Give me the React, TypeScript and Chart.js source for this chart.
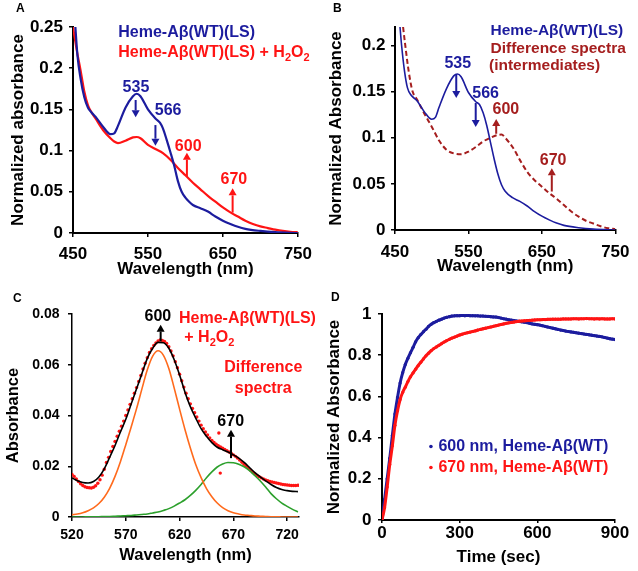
import React, { useEffect, useRef } from 'react';
import { Chart, registerables } from 'chart.js';

Chart.register(...registerables);

const FONT = "'Liberation Sans', Arial, Helvetica, sans-serif";
const BLUE = '#1c1c9e';
const RED = '#ff1414';
const DARKRED = '#a51e1e';
const ORANGE = '#ff6a1c';
const GREEN = '#2ca02c';
const BLACK = '#000000';

// ---------- Panel A ----------
const aWlLS = [453, 456, 460, 465, 470, 475, 480, 490, 500, 505, 510, 520, 530, 535, 540, 550, 560, 566, 570, 575, 580, 585, 590, 595, 600, 605, 610, 620, 630, 640, 650, 660, 670, 680, 700, 720, 750];
const aLS = [0.252, 0.215, 0.188, 0.165, 0.152, 0.146, 0.141, 0.129, 0.12, 0.121, 0.13, 0.152, 0.166, 0.169, 0.166, 0.15, 0.139, 0.134, 0.127, 0.113, 0.098, 0.082, 0.063, 0.05, 0.043, 0.038, 0.034, 0.03, 0.026, 0.02, 0.015, 0.011, 0.0075, 0.005, 0.0025, 0.001, 0];
const aWlH2O2 = [450, 455, 460, 465, 470, 475, 480, 490, 500, 505, 510, 520, 530, 535, 540, 550, 560, 570, 580, 590, 600, 610, 620, 630, 640, 650, 660, 670, 680, 690, 700, 710, 720, 730, 740, 750];
const aH2O2 = [0.25, 0.222, 0.198, 0.172, 0.155, 0.146, 0.139, 0.125, 0.115, 0.111, 0.109, 0.112, 0.116, 0.1165, 0.115, 0.107, 0.102, 0.097, 0.089, 0.079, 0.07, 0.061, 0.053, 0.045, 0.038, 0.031, 0.025, 0.02, 0.015, 0.011, 0.008, 0.006, 0.004, 0.0025, 0.0015, 0.001];
const aXTicks = [450, 550, 650, 750];
const aYTicks = [0, 0.05, 0.1, 0.15, 0.2, 0.25];

// ---------- Panel B ----------
const bWlLS = [456, 459, 463, 467, 472, 476, 480, 490, 500, 505, 510, 520, 530, 535, 540, 550, 560, 565, 570, 575, 580, 585, 590, 595, 600, 610, 620, 630, 640, 650, 660, 670, 680, 700, 720, 750];
const bLS = [0.228, 0.2, 0.172, 0.154, 0.146, 0.143, 0.14, 0.128, 0.12, 0.122, 0.133, 0.153, 0.167, 0.169, 0.166, 0.149, 0.139, 0.136, 0.127, 0.113, 0.095, 0.077, 0.061, 0.049, 0.042, 0.035, 0.031, 0.026, 0.02, 0.015, 0.011, 0.0075, 0.005, 0.0025, 0.001, 0.0];
const bWlDiff = [461, 464, 469, 474, 480, 490, 500, 510, 520, 530, 540, 550, 560, 570, 580, 590, 595, 600, 610, 620, 630, 640, 650, 660, 670, 680, 690, 700, 710, 720, 730, 740, 750];
const bDiff = [0.22, 0.2, 0.17, 0.15, 0.1415, 0.126, 0.112, 0.097, 0.087, 0.083, 0.082, 0.085, 0.09, 0.096, 0.1, 0.103, 0.1035, 0.1, 0.09, 0.076, 0.063, 0.054, 0.047, 0.04, 0.034, 0.027, 0.02, 0.0145, 0.01, 0.007, 0.004, 0.002, 0.001];
const bXTicks = [450, 550, 650, 750];
const bYTicks = [0, 0.05, 0.1, 0.15, 0.2];

// ---------- Panel C ----------
const cWl = [520, 525, 530, 535, 540, 545, 550, 555, 560, 565, 570, 575, 580, 585, 590, 595, 600, 605, 610, 615, 620, 625, 630, 635, 640, 645, 650, 655, 660, 665, 670, 675, 680, 685, 690, 695, 700, 705, 710, 715, 720, 725, 730];
const cFit = [0.0154, 0.0143, 0.0136, 0.0134, 0.014, 0.0158, 0.019, 0.0235, 0.0282, 0.0335, 0.0385, 0.0445, 0.0505, 0.0565, 0.0625, 0.0665, 0.0688, 0.0687, 0.0665, 0.062, 0.056, 0.0492, 0.0435, 0.039, 0.0348, 0.0318, 0.0293, 0.0275, 0.0265, 0.0256, 0.0245, 0.0232, 0.0215, 0.0195, 0.0175, 0.0158, 0.0142, 0.0128, 0.0116, 0.0108, 0.0104, 0.0101, 0.01];
const cBand600 = [0.0009, 0.0012, 0.0017, 0.0025, 0.0036, 0.0053, 0.0078, 0.0113, 0.016, 0.0218, 0.0285, 0.0355, 0.0427, 0.0505, 0.058, 0.0634, 0.0655, 0.0637, 0.0585, 0.0508, 0.0425, 0.0345, 0.0272, 0.0207, 0.0155, 0.0112, 0.008, 0.0055, 0.0037, 0.0025, 0.0017, 0.0012, 0.0008, 0.0006, 0.0004, 0.0003, 0.0002, 0.0001, 0.0001, 0, 0, 0, 0];
const cBand670 = [0, 0, 0, 0.0001, 0.0001, 0.0001, 0.0002, 0.0002, 0.0003, 0.0004, 0.0005, 0.0006, 0.0008, 0.001, 0.0012, 0.0016, 0.002, 0.0026, 0.0033, 0.0043, 0.0055, 0.0068, 0.0085, 0.0105, 0.0128, 0.0155, 0.0178, 0.0197, 0.0209, 0.0215, 0.0214, 0.0208, 0.0198, 0.0183, 0.0163, 0.0142, 0.0118, 0.0092, 0.0072, 0.0055, 0.0042, 0.003, 0.002];
const cDotWl = [
  520, 522, 524, 526, 528, 530, 532, 534, 536, 538,
  540, 542, 544, 546, 548, 550, 552, 554, 556, 558,
  560, 562, 564, 566, 568, 570, 572, 574, 576, 578,
  580, 582, 584, 586, 588, 590, 592, 594, 596, 598,
  600, 602, 604, 606, 608, 610, 612, 614, 616, 618,
  620, 622, 624, 626, 628, 630, 632, 634, 636, 638,
  640, 642, 644, 646, 648, 650, 652, 654, 656, 658,
  660, 662, 664, 666, 668, 670, 672, 674, 676, 678,
  680, 682, 684, 686, 688, 690, 692, 694, 696, 698,
  700, 702, 704, 706, 708, 710, 712, 714, 716, 718,
  720, 722, 724, 726, 728, 730, 656.5, 657.8,
];
const cDotAbs = [
  0.0168, 0.016, 0.015, 0.014, 0.0131, 0.0124, 0.0119, 0.0116, 0.0115, 0.0114,
  0.0117, 0.0123, 0.0133, 0.0147, 0.0165, 0.0188, 0.0215, 0.0235, 0.0258, 0.0278,
  0.0298, 0.0318, 0.0338, 0.0358, 0.0378, 0.04, 0.0422, 0.0444, 0.0466, 0.0488,
  0.051, 0.0534, 0.0558, 0.0583, 0.0606, 0.0628, 0.0648, 0.0663, 0.0676, 0.0686,
  0.0694, 0.0698, 0.0696, 0.0692, 0.0684, 0.0671, 0.0654, 0.0635, 0.0612, 0.0588,
  0.0563, 0.0537, 0.0512, 0.0488, 0.0466, 0.0446, 0.0428, 0.0411, 0.0394, 0.0378,
  0.0362, 0.0348, 0.0335, 0.0323, 0.0312, 0.0302, 0.0294, 0.0287, 0.0281, 0.0276,
  0.0271, 0.0266, 0.0261, 0.0256, 0.0251, 0.0245, 0.0239, 0.0232, 0.0224, 0.0216,
  0.0208, 0.02, 0.0192, 0.0184, 0.0177, 0.017, 0.0164, 0.0159, 0.0154, 0.015,
  0.0146, 0.0143, 0.014, 0.0138, 0.0136, 0.0134, 0.0132, 0.013, 0.0128, 0.0127,
  0.0126, 0.0125, 0.0124, 0.0124, 0.0124, 0.0125, 0.0331, 0.0173,
];
const cXTicks = [520, 570, 620, 670, 720];
const cYTicks = [0, 0.02, 0.04, 0.06, 0.08];

// ---------- Panel D ----------
const dTime = [
  0, 10, 20, 30, 40, 50, 60, 70, 80, 90,
  100, 110, 120, 130, 140, 150, 160, 170, 180, 190,
  200, 210, 220, 230, 240, 250, 260, 270, 280, 290,
  300, 310, 320, 330, 340, 350, 360, 370, 380, 390,
  400, 410, 420, 430, 440, 450, 460, 470, 480, 490,
  500, 510, 520, 530, 540, 550, 560, 570, 580, 590,
  600, 610, 620, 630, 640, 650, 660, 670, 680, 690,
  700, 710, 720, 730, 740, 750, 760, 770, 780, 790,
  800, 810, 820, 830, 840, 850, 860, 870, 880, 890,
  900,
];
const d600 = [
  0.0, 0.1, 0.2, 0.3, 0.41, 0.515, 0.595, 0.665, 0.715, 0.755,
  0.785, 0.812, 0.838, 0.865, 0.885, 0.9, 0.914, 0.926, 0.94, 0.95,
  0.958, 0.964, 0.97, 0.975, 0.98, 0.984, 0.987, 0.99, 0.991, 0.992,
  0.992, 0.993, 0.992, 0.993, 0.992, 0.992, 0.991, 0.991, 0.99, 0.99,
  0.989, 0.988, 0.987, 0.986, 0.985, 0.983, 0.98, 0.977, 0.975, 0.972,
  0.97, 0.968, 0.966, 0.964, 0.962, 0.96, 0.958, 0.955, 0.952, 0.95,
  0.948, 0.946, 0.943, 0.94, 0.937, 0.934, 0.931, 0.928, 0.925, 0.922,
  0.92, 0.917, 0.915, 0.913, 0.911, 0.909, 0.907, 0.905, 0.903, 0.901,
  0.899, 0.897, 0.895, 0.893, 0.891, 0.889, 0.886, 0.883, 0.88, 0.878,
  0.876,
];
const d670 = [
  0.0, 0.06, 0.16, 0.27, 0.36, 0.46, 0.53, 0.585, 0.62, 0.645,
  0.672, 0.695, 0.714, 0.732, 0.75, 0.766, 0.782, 0.797, 0.81, 0.822,
  0.832, 0.84, 0.848, 0.856, 0.864, 0.871, 0.877, 0.883, 0.888, 0.893,
  0.898, 0.902, 0.906, 0.909, 0.912, 0.915, 0.918, 0.922, 0.925, 0.928,
  0.931, 0.934, 0.937, 0.94, 0.943, 0.946, 0.949, 0.952, 0.955, 0.957,
  0.959, 0.961, 0.963, 0.965, 0.966, 0.967, 0.968, 0.969, 0.97, 0.971,
  0.972, 0.972, 0.973, 0.973, 0.974, 0.974, 0.975, 0.975, 0.975, 0.975,
  0.976, 0.976, 0.976, 0.976, 0.977, 0.977, 0.976, 0.977, 0.977, 0.978,
  0.977, 0.977, 0.976, 0.977, 0.976, 0.977, 0.976, 0.976, 0.976, 0.977,
  0.976,
];
const dXTicks = [0, 300, 600, 900];
const dYTicks = [0, 0.2, 0.4, 0.6, 0.8, 1];

// ---------- annotations (data coordinates) ----------
type Ann =
  | { t: 'text'; x: number; y: number; s: string; c: string; size: number; align?: 'left' | 'center' | 'right' }
  | { t: 'arrow'; x: number; y1: number; y2: number; c: string }
  | { t: 'dot'; x: number; y: number; c: string; r: number };

const aAnn: Ann[] = [
  { t: 'text', x: 510.4, y: 0.2433, s: 'Heme-Aβ(WT)(LS)', c: BLUE, size: 16, align: 'left' },
  { t: 'text', x: 510.4, y: 0.2184, s: 'Heme-Aβ(WT)(LS) + H_2O_2', c: RED, size: 16, align: 'left' },
  { t: 'text', x: 534, y: 0.177, s: '535', c: BLUE, size: 16 },
  { t: 'arrow', x: 533.6, y1: 0.1614, y2: 0.1404, c: BLUE },
  { t: 'text', x: 577, y: 0.148, s: '566', c: BLUE, size: 16 },
  { t: 'arrow', x: 560, y1: 0.131, y2: 0.106, c: BLUE },
  { t: 'text', x: 603.7, y: 0.1047, s: '600', c: RED, size: 16 },
  { t: 'arrow', x: 602, y1: 0.0683, y2: 0.0975, c: RED },
  { t: 'text', x: 664.7, y: 0.0643, s: '670', c: RED, size: 16 },
  { t: 'arrow', x: 663, y1: 0.0247, y2: 0.0542, c: RED },
];

const bAnn: Ann[] = [
  { t: 'text', x: 580.1, y: 0.2155, s: 'Heme-Aβ(WT)(LS)', c: BLUE, size: 15.5, align: 'left' },
  { t: 'text', x: 580.1, y: 0.197, s: 'Difference spectra', c: DARKRED, size: 15.5, align: 'left' },
  { t: 'text', x: 578, y: 0.1775, s: '(intermediates)', c: DARKRED, size: 15.5, align: 'left' },
  { t: 'text', x: 535.5, y: 0.1807, s: '535', c: BLUE, size: 16 },
  { t: 'arrow', x: 533.4, y1: 0.1685, y2: 0.143, c: BLUE },
  { t: 'text', x: 573.4, y: 0.1476, s: '566', c: BLUE, size: 16 },
  { t: 'arrow', x: 559.9, y1: 0.1377, y2: 0.1116, c: BLUE },
  { t: 'text', x: 601, y: 0.13, s: '600', c: DARKRED, size: 16 },
  { t: 'arrow', x: 587.8, y1: 0.1043, y2: 0.1203, c: DARKRED },
  { t: 'text', x: 665.3, y: 0.0752, s: '670', c: DARKRED, size: 16 },
  { t: 'arrow', x: 663.5, y1: 0.0417, y2: 0.067, c: DARKRED },
];

const cAnn: Ann[] = [
  { t: 'text', x: 619.5, y: 0.0783, s: 'Heme-Aβ(WT)(LS)', c: RED, size: 16, align: 'left' },
  { t: 'text', x: 624.4, y: 0.0707, s: '+ H_2O_2', c: RED, size: 16, align: 'left' },
  { t: 'text', x: 697.8, y: 0.0587, s: 'Difference', c: RED, size: 16 },
  { t: 'text', x: 697.8, y: 0.0508, s: 'spectra', c: RED, size: 16 },
  { t: 'text', x: 599.8, y: 0.0788, s: '600', c: BLACK, size: 16 },
  { t: 'arrow', x: 602.4, y1: 0.0692, y2: 0.0758, c: BLACK },
  { t: 'text', x: 667.5, y: 0.0376, s: '670', c: BLACK, size: 16 },
  { t: 'arrow', x: 667.8, y1: 0.0232, y2: 0.0344, c: BLACK },
];

const dAnn: Ann[] = [
  { t: 'dot', x: 189, y: 0.357, c: BLUE, r: 1.8 },
  { t: 'text', x: 218, y: 0.357, s: '600 nm, Heme-Aβ(WT)', c: BLUE, size: 16, align: 'left' },
  { t: 'dot', x: 189, y: 0.255, c: RED, r: 1.8 },
  { t: 'text', x: 218, y: 0.255, s: '670 nm, Heme-Aβ(WT)', c: RED, size: 16, align: 'left' },
];

// ---------- drawing helpers ----------
function drawRich(ctx: CanvasRenderingContext2D, s: string, x: number, y: number, size: number, align: string, color: string) {
  const segs: { txt: string; sub: boolean }[] = [];
  const re = /_(\d)/g;
  let last = 0;
  let m: RegExpExecArray | null;
  while ((m = re.exec(s))) {
    if (m.index > last) segs.push({ txt: s.slice(last, m.index), sub: false });
    segs.push({ txt: m[1], sub: true });
    last = m.index + m[0].length;
  }
  if (last < s.length) segs.push({ txt: s.slice(last), sub: false });
  const mainF = `bold ${size}px ${FONT}`;
  const subF = `bold ${Math.round(size * 0.68)}px ${FONT}`;
  let total = 0;
  const widths = segs.map((g) => {
    ctx.font = g.sub ? subF : mainF;
    const w = ctx.measureText(g.txt).width;
    total += w;
    return w;
  });
  let cx = align === 'center' ? x - total / 2 : align === 'right' ? x - total : x;
  ctx.fillStyle = color;
  ctx.textAlign = 'left';
  ctx.textBaseline = 'middle';
  segs.forEach((g, i) => {
    ctx.font = g.sub ? subF : mainF;
    ctx.fillText(g.txt, cx, g.sub ? y + size * 0.32 : y);
    cx += widths[i];
  });
}

function annPlugin(items: Ann[]) {
  return {
    id: 'ann',
    afterDatasetsDraw(chart: any) {
      const ctx: CanvasRenderingContext2D = chart.ctx;
      const xs = chart.scales.x;
      const ys = chart.scales.y;
      ctx.save();
      for (const it of items) {
        if (it.t === 'arrow') {
          const px = xs.getPixelForValue(it.x);
          const p1 = ys.getPixelForValue(it.y1);
          const p2 = ys.getPixelForValue(it.y2);
          const dir = Math.sign(p2 - p1);
          const head = 7;
          ctx.strokeStyle = it.c;
          ctx.fillStyle = it.c;
          ctx.lineWidth = 2;
          ctx.beginPath();
          ctx.moveTo(px, p1);
          ctx.lineTo(px, p2 - dir * head);
          ctx.stroke();
          ctx.beginPath();
          ctx.moveTo(px, p2);
          ctx.lineTo(px - 4, p2 - dir * head);
          ctx.lineTo(px + 4, p2 - dir * head);
          ctx.closePath();
          ctx.fill();
        } else if (it.t === 'dot') {
          ctx.fillStyle = it.c;
          ctx.beginPath();
          ctx.arc(xs.getPixelForValue(it.x), ys.getPixelForValue(it.y), it.r, 0, Math.PI * 2);
          ctx.fill();
        } else {
          drawRich(ctx, it.s, xs.getPixelForValue(it.x), ys.getPixelForValue(it.y), it.size, it.align || 'center', it.c);
        }
      }
      ctx.restore();
    },
  };
}

interface AxisSpec {
  min: number; max: number; ticks: number[];
  tickSize: number; tickLen: number; tickPad: number;
  title: string; titleSize: number; titlePad: number;
  fit: number; border: number;
}

function makeAxis(a: AxisSpec, isX: boolean) {
  return {
    type: 'linear',
    position: isX ? 'bottom' : 'left',
    min: a.min,
    max: a.max,
    afterBuildTicks: (s: any) => { s.ticks = a.ticks.map((v) => ({ value: v })); },
    afterFit: (s: any) => { if (isX) s.height = a.fit; else s.width = a.fit; },
    grid: { display: true, drawOnChartArea: false, drawTicks: true, tickLength: a.tickLen, color: '#000', lineWidth: 1.5 },
    border: { display: true, color: '#000', width: a.border },
    ticks: {
      color: '#000', padding: a.tickPad, maxRotation: 0, minRotation: 0, autoSkip: false,
      font: { family: FONT, size: a.tickSize, weight: 'bold' },
      callback: (v: any) => String(v),
    },
    title: {
      display: true, text: a.title, color: '#000',
      font: { family: FONT, size: a.titleSize, weight: 'bold' },
      padding: isX ? { top: 0, bottom: a.titlePad } : { top: a.titlePad, bottom: 0 },
    },
  };
}

const xy = (xs: number[], ys: number[]) => xs.map((x, i) => ({ x, y: ys[i] }));
const lineDs = (xs: number[], ys: number[], color: string, width: number, extra: any = {}) => ({
  data: xy(xs, ys), borderColor: color, backgroundColor: color, borderWidth: width,
  pointRadius: 0, cubicInterpolationMode: 'monotone', fill: false, ...extra,
});
const dotDs = (xs: number[], ys: number[], color: string, r: number) => ({
  data: xy(xs, ys), showLine: false, pointRadius: r, pointBackgroundColor: color,
  pointBorderWidth: 0, borderColor: color, backgroundColor: color,
});
// dense measured trace: thick line through the sampled points, with the points themselves
const traceDs = (xs: number[], ys: number[], color: string) => ({
  data: xy(xs, ys), showLine: true, borderColor: color, backgroundColor: color, borderWidth: 3,
  cubicInterpolationMode: 'monotone', pointRadius: 1.6, pointBackgroundColor: color, pointBorderWidth: 0, fill: false,
});

interface PanelSpec { datasets: any[]; x: AxisSpec; y: AxisSpec; padRight: number; padTop: number; ann: Ann[]; }

function makePanel(canvas: HTMLCanvasElement, p: PanelSpec) {
  return new Chart(canvas, {
    type: 'line',
    data: { datasets: p.datasets },
    options: {
      responsive: false,
      animation: false,
      devicePixelRatio: 1,
      events: [],
      layout: { padding: { left: 0, right: p.padRight, top: p.padTop, bottom: 0 } },
      plugins: { legend: { display: false }, tooltip: { enabled: false } },
      scales: { x: makeAxis(p.x, true), y: makeAxis(p.y, false) } as any,
    },
    plugins: [annPlugin(p.ann)],
  } as any);
}

function panelA(c: HTMLCanvasElement) {
  return makePanel(c, {
    datasets: [lineDs(aWlLS, aLS, BLUE, 2.2), lineDs(aWlH2O2, aH2O2, RED, 2.2)],
    x: { min: 450, max: 750, ticks: aXTicks, tickSize: 17, tickLen: 4, tickPad: 7, title: 'Wavelength (nm)', titleSize: 17, titlePad: 5.6, fit: 52, border: 2 },
    y: { min: 0, max: 0.25, ticks: aYTicks, tickSize: 17, tickLen: 4, tickPad: 6, title: 'Normalized absorbance', titleSize: 17, titlePad: 8, fit: 73, border: 2 },
    padRight: 21, padTop: 27, ann: aAnn,
  });
}

function panelB(c: HTMLCanvasElement) {
  return makePanel(c, {
    datasets: [lineDs(bWlLS, bLS, BLUE, 1.6), lineDs(bWlDiff, bDiff, DARKRED, 2, { borderDash: [5, 3] })],
    x: { min: 450, max: 750, ticks: bXTicks, tickSize: 17, tickLen: 4, tickPad: 8.5, title: 'Wavelength (nm)', titleSize: 17, titlePad: 8, fit: 55, border: 2 },
    y: { min: 0, max: 0.22, ticks: bYTicks, tickSize: 17, tickLen: 4, tickPad: 5.5, title: 'Normalized Absorbance', titleSize: 17, titlePad: 7, fit: 76, border: 2 },
    padRight: 21, padTop: 27, ann: bAnn,
  });
}

function panelC(c: HTMLCanvasElement) {
  return makePanel(c, {
    datasets: [
      lineDs(cWl, cFit, BLACK, 1.6),
      lineDs(cWl, cBand600, ORANGE, 1.6),
      lineDs(cWl, cBand670, GREEN, 1.6),
      dotDs(cDotWl, cDotAbs, RED, 1.7),
    ],
    x: { min: 520, max: 731, ticks: cXTicks, tickSize: 14, tickLen: 4, tickPad: 5.5, title: 'Wavelength (nm)', titleSize: 16.5, titlePad: 6, fit: 54, border: 1.5 },
    y: { min: 0, max: 0.08, ticks: cYTicks, tickSize: 14, tickLen: 4, tickPad: 8.5, title: 'Absorbance', titleSize: 16.5, titlePad: 3.8, fit: 72, border: 1.5 },
    padRight: 20, padTop: 29, ann: cAnn,
  });
}

function panelD(c: HTMLCanvasElement) {
  return makePanel(c, {
    datasets: [traceDs(dTime, d670, RED), traceDs(dTime, d600, BLUE)],
    x: { min: 0, max: 900, ticks: dXTicks, tickSize: 17, tickLen: 3, tickPad: 0, title: 'Time (sec)', titleSize: 17, titlePad: 3.3, fit: 51, border: 2 },
    y: { min: 0, max: 1, ticks: dYTicks, tickSize: 17, tickLen: 4, tickPad: 6.5, title: 'Normalized Absorbance', titleSize: 17, titlePad: 5.5, fit: 63, border: 2 },
    padRight: 23, padTop: 29, ann: dAnn,
  });
}

const letterStyle = (left: number, top: number): React.CSSProperties => ({
  position: 'absolute', left, top, font: `bold 12px ${FONT}`, lineHeight: '12px', color: '#000',
});

export default function App() {
  const rA = useRef<HTMLCanvasElement>(null);
  const rB = useRef<HTMLCanvasElement>(null);
  const rC = useRef<HTMLCanvasElement>(null);
  const rD = useRef<HTMLCanvasElement>(null);

  useEffect(() => {
    const charts = [panelA(rA.current!), panelB(rB.current!), panelC(rC.current!), panelD(rD.current!)];
    return () => charts.forEach((ch) => ch.destroy());
  }, []);

  return (
    <div style={{ position: 'fixed', left: 0, top: 0, width: 638, height: 571, background: '#fff', overflow: 'hidden' }}>
      <canvas ref={rA} width={319} height={285} style={{ position: 'absolute', left: 0, top: 0 }} />
      <canvas ref={rB} width={319} height={285} style={{ position: 'absolute', left: 319, top: 0 }} />
      <canvas ref={rC} width={319} height={286} style={{ position: 'absolute', left: 0, top: 285 }} />
      <canvas ref={rD} width={319} height={286} style={{ position: 'absolute', left: 319, top: 285 }} />
      <div style={letterStyle(16, 1.5)}>A</div>
      <div style={letterStyle(333, 1.5)}>B</div>
      <div style={letterStyle(13, 291.5)}>C</div>
      <div style={letterStyle(331, 290.5)}>D</div>
    </div>
  );
}
